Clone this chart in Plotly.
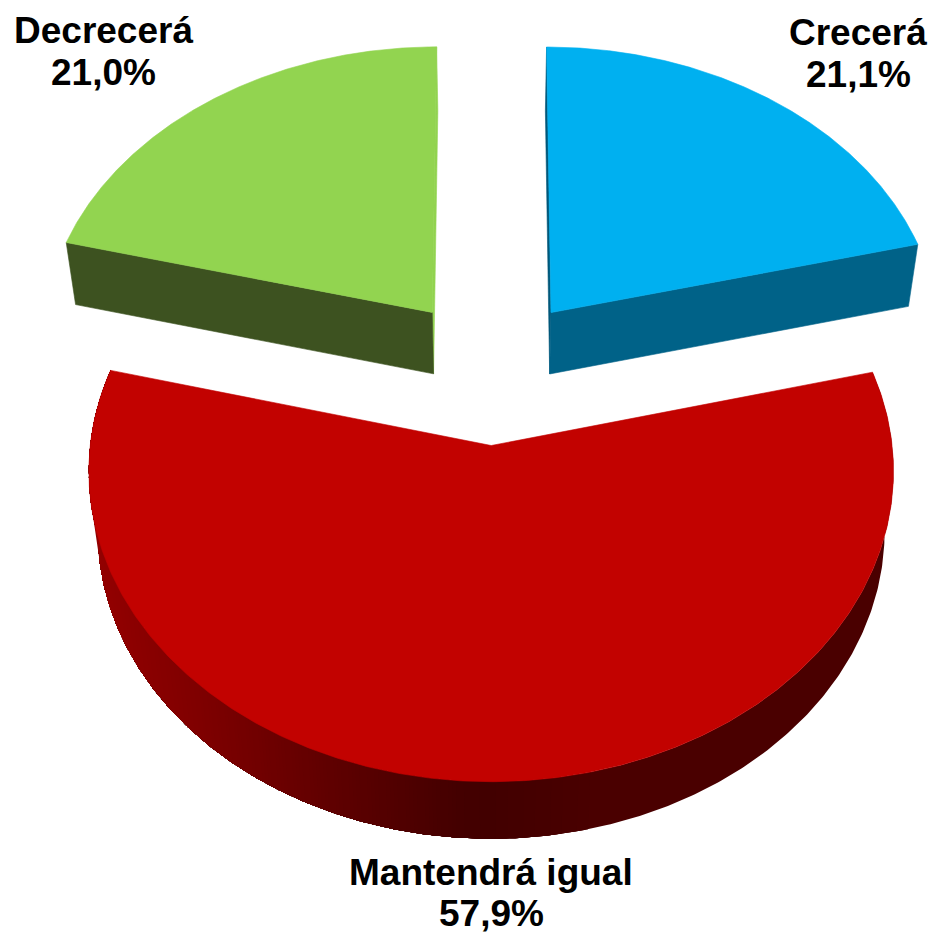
import numpy as np
import plotly.graph_objects as go

categories = ["Crecerá", "Mantendrá igual", "Decrecerá"]
values = [21.1, 57.9, 21.0]
top_colors = ["#00b0f0", "#c20200", "#92d450"]
face_colors = ["#006288", None, "#3d5220"]
inner_colors = ["#00587a", None, "#92d450"]

# camera / layout parameters of the tilted pie (screen pixels)
CX, CY, F, G, K = 491.5, 370.0, 392.8, 296.0, 0.081
PULL = 0.25
DEPTH_SX, DEPTH_SY, DEPTH_SHIFT = 0.978, 0.9907, 64.3
LABEL_X = [858, 491, 103]
NAME_Y = [32, 872, 30]
VALUE_Y = [74, 913, 72]
WALL_X = [90, 193, 327, 460, 490, 600, 900]
WALL_R = [0x94, 0x80, 0x60, 0x44, 0x42, 0x4a, 0x4a]


def project(X, Y):
    d = 1 + K * Y
    return CX + F * X / d, CY - G * Y / d


def lower(sx, sy):
    return CX + (sx - CX) * DEPTH_SX, sy * DEPTH_SY + DEPTH_SHIFT


def poly(fig, x, y, color, width=0.6):
    fig.add_trace(go.Scatter(
        x=list(x), y=list(y), mode="lines", fill="toself", fillcolor=color,
        line=dict(color=color, width=width), hoverinfo="skip", showlegend=False))


fig = go.Figure()
total = sum(values)
edges = np.concatenate([[0], np.cumsum(values)]) / total * 2 * np.pi

for i in range(len(values)):
    a0, a1 = edges[i], edges[i + 1]
    mid = (a0 + a1) / 2
    ox, oy = PULL * np.sin(mid), PULL * np.cos(mid)
    th = np.linspace(a0, a1, 400)
    ax, ay = project(np.array([ox]), np.array([oy]))
    rx, ry = project(ox + np.sin(th), oy + np.cos(th))
    bx, by = lower(rx, ry)
    lax, lay = lower(ax, ay)

    if face_colors[i] is None:
        # curved outer wall: painted over itself so that no seams appear
        last = None
        for j in range(len(th) - 1):
            r = int(round(np.interp(rx[j], WALL_X, WALL_R)))
            if r == last:
                continue
            last = r
            poly(fig, np.concatenate([rx[j:], bx[j:][::-1], rx[j:j + 1]]),
                 np.concatenate([ry[j:], by[j:][::-1], ry[j:j + 1]]),
                 f"rgb({r},0,0)", width=0)
    else:
        # the cut face that looks towards the viewer
        k = -1 if i == 0 else 0
        kk = 0 if i == 0 else -1
        poly(fig, [ax[0], rx[kk], bx[kk], lax[0], ax[0]],
             [ay[0], ry[kk], by[kk], lay[0], ay[0]], inner_colors[i])
        poly(fig, [ax[0], rx[k], bx[k], lax[0], ax[0]],
             [ay[0], ry[k], by[k], lay[0], ay[0]], face_colors[i])

    poly(fig, np.concatenate([ax, rx, ax]), np.concatenate([ay, ry, ay]), top_colors[i])

FONT = dict(family="Liberation Sans, Arial, sans-serif", size=37, color="#000000")
for i, name in enumerate(categories):
    pct = f"{values[i]:.1f}".replace(".", ",") + "%"
    fig.add_annotation(x=LABEL_X[i], y=NAME_Y[i], text=f"<b>{name}</b>", showarrow=False,
                       font=FONT, xanchor="center", yanchor="middle")
    fig.add_annotation(x=LABEL_X[i], y=VALUE_Y[i], text=f"<b>{pct}</b>", showarrow=False,
                       font=FONT, xanchor="center", yanchor="middle")

fig.update_layout(
    width=934, height=934, margin=dict(l=0, r=0, t=0, b=0),
    paper_bgcolor="white", plot_bgcolor="white", showlegend=False,
    xaxis=dict(range=[0, 934], visible=False, fixedrange=True),
    yaxis=dict(range=[934, 0], visible=False, fixedrange=True),
)
fig.write_html("out.html", config=dict(displayModeBar=False),
               post_script="document.body.style.margin='0';document.body.style.overflow='hidden';")
